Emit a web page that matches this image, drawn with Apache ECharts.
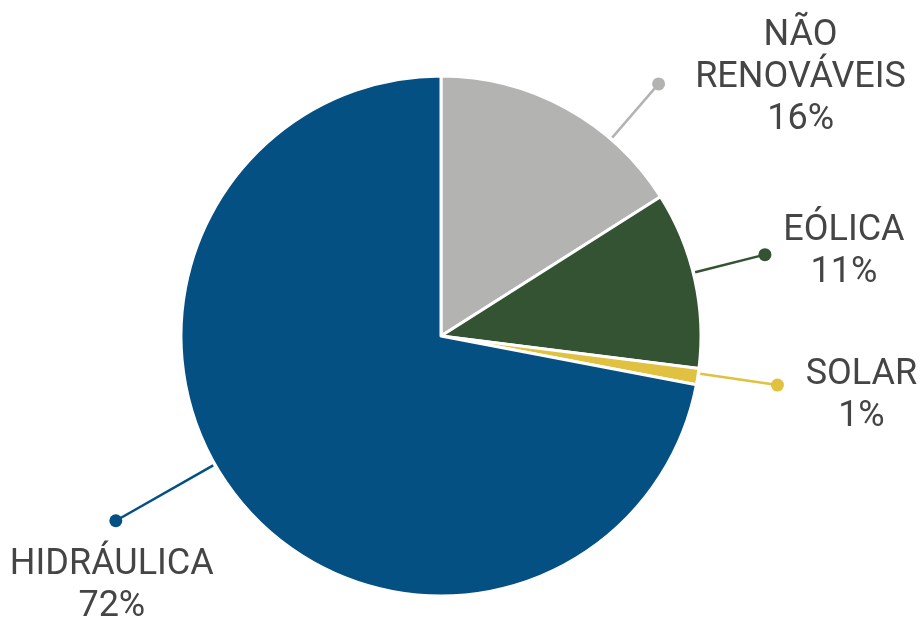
<!DOCTYPE html>
<html>
<head>
<meta charset="utf-8">
<script src="https://cdn.jsdelivr.net/npm/echarts@6/dist/echarts.min.js"></script>
<style>
  html, body { margin: 0; padding: 0; background: #fff; }
  #chart { width: 921px; height: 621px; }
</style>
</head>
<body>
<div id="chart"></div>
<script>
// Matriz elétrica: participação de cada fonte (%)
const categories = ['NÃO\nRENOVÁVEIS', 'EÓLICA', 'SOLAR', 'HIDRÁULICA'];
const shares = [16, 11, 1, 72];
const colors = ['#b3b4b2', '#345332', '#e0c140', '#045083'];

// Pie geometry (pixels)
const CX = 441, CY = 336, R = 260;

// Leader-line tweaks per label: angular nudge (deg), dot radius, text offset from dot
const leader = [
  { nudge: 12,   dotR: 333, dx: 142, dy: -6 },
  { nudge: -1.5, dotR: 334, dx: 79,  dy: -3 },
  { nudge: -0.7, dotR: 340, dx: 84,  dy: 11 },
  { nudge: 10,   dotR: 374, dx: -4,  dy: 65 }
];

const total = shares.reduce((a, b) => a + b, 0);

function polarPoint(deg, r) {
  const a = deg * Math.PI / 180;
  return [CX + r * Math.sin(a), CY - r * Math.cos(a)];
}

// Mid-angle of each slice, measured clockwise from 12 o'clock
function geometry(i) {
  let cum = 0;
  for (let k = 0; k < i; k++) cum += shares[k];
  const mid = (cum + shares[i] / 2) / total * 360 + leader[i].nudge;
  const start = polarPoint(mid, R + 2);
  const dot = polarPoint(mid, leader[i].dotR);
  return { start, dot, text: [dot[0] + leader[i].dx, dot[1] + leader[i].dy] };
}

const chart = echarts.init(document.getElementById('chart'), null, { renderer: 'canvas' });

const dots = shares.map((v, i) => {
  const g = geometry(i);
  return {
    type: 'circle',
    shape: { cx: g.dot[0], cy: g.dot[1], r: 6.5 },
    style: { fill: colors[i] },
    z: 10
  };
});

chart.setOption({
  animation: false,
  backgroundColor: '#ffffff',
  color: colors,
  graphic: dots,
  series: [{
    type: 'pie',
    center: [CX, CY],
    radius: [0, R],
    startAngle: 90,
    clockwise: true,
    avoidLabelOverlap: false,
    itemStyle: { borderColor: '#ffffff', borderWidth: 3 },
    label: {
      show: true,
      formatter: p => p.name + '\n' + p.value + '%',
      fontFamily: 'Roboto',
      fontSize: 36,
      lineHeight: 42,
      color: '#454545',
      align: 'center',
      verticalAlign: 'middle'
    },
    labelLine: {
      show: true,
      lineStyle: { width: 2.5 }
    },
    labelLayout: params => {
      const g = geometry(params.dataIndex);
      return {
        x: g.text[0],
        y: g.text[1],
        align: 'center',
        verticalAlign: 'middle',
        labelLinePoints: [g.start, g.dot, g.dot]
      };
    },
    data: categories.map((c, i) => ({
      name: c,
      value: shares[i],
      itemStyle: { color: colors[i] },
      labelLine: { lineStyle: { color: colors[i] } }
    }))
  }]
});
</script>
</body>
</html>
